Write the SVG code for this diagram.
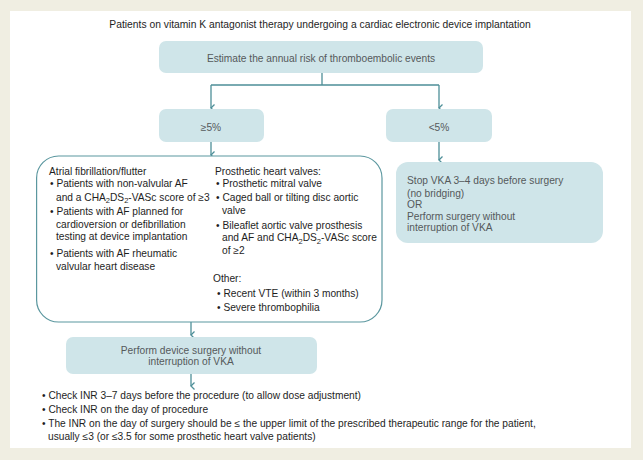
<svg xmlns="http://www.w3.org/2000/svg" width="643" height="460" viewBox="0 0 643 460">
<defs>
<style>
text{font-family:"Liberation Sans",Arial,Helvetica,sans-serif;font-size:10.2px;fill:#1e1e1e}
.box{fill:#cfe5e9}
.bt{fill:#55595b}
.c{text-anchor:middle}
.con{stroke:#4e8f98;stroke-width:1.3;fill:none}
</style>
<marker id="ah" markerWidth="10" markerHeight="8" viewBox="0 0 10 8" refX="5" refY="6" orient="auto-start-reverse" markerUnits="userSpaceOnUse">
<path d="M1.5,2.5 L5,6 L8.5,2.5" fill="none" stroke="#4e8f98" stroke-width="1.3"/>
</marker>
</defs>
<rect x="0" y="0" width="643" height="460" fill="#f0eee2"/>
<rect x="10" y="11" width="621" height="437" fill="#ffffff"/>
<text class="c" x="320" y="27.5" style="font-size:10.3px">Patients on vitamin K antagonist therapy undergoing a cardiac electronic device implantation</text>

<g id="connectors">
<path class="con" d="M322,73 V85 M211,85 H439"/>
<path class="con" d="M211,85 V108" marker-end="url(#ah)"/>
<path class="con" d="M439,85 V108" marker-end="url(#ah)"/>
<path class="con" d="M211,142 V155" marker-end="url(#ah)"/>
<path class="con" d="M439,142 V160" marker-end="url(#ah)"/>
<path class="con" d="M191,322 V335" marker-end="url(#ah)"/>
<path class="con" d="M191,374 V386" marker-end="url(#ah)"/>
</g>

<g id="estimate">
<rect class="box" x="159" y="41" width="324" height="32" rx="7"/>
<text class="c bt" x="321" y="61.5">Estimate the annual risk of thromboembolic events</text>
</g>

<g id="ge5">
<rect class="box" x="159" y="109" width="105" height="33" rx="7"/>
<text class="c bt" x="211" y="130.5">≥5%</text>
</g>

<g id="lt5">
<rect class="box" x="386" y="109" width="106" height="33" rx="7"/>
<text class="c bt" x="439" y="130.5">&lt;5%</text>
</g>

<g id="criteria">
<rect x="36.6" y="156" width="345.4" height="166" rx="22" fill="#ffffff" stroke="#5b979f" stroke-width="1.2"/>
<text x="49" y="174.5">Atrial fibrillation/flutter</text>
<text x="50" y="187">• Patients with non-valvular AF</text>
<text x="56" y="200.5">and a CHA<tspan dy="2.5" style="font-size:7.5px">2</tspan><tspan dy="-2.5">DS</tspan><tspan dy="2.5" style="font-size:7.5px">2</tspan><tspan dy="-2.5">-VASc score of ≥3</tspan></text>
<text x="50" y="215">• Patients with AF planned for</text>
<text x="56" y="227.5">cardioversion or defibrillation</text>
<text x="56" y="240">testing at device implantation</text>
<text x="50" y="257">• Patients with AF rheumatic</text>
<text x="56" y="269.5">valvular heart disease</text>

<text x="215" y="174.5">Prosthetic heart valves:</text>
<text x="216" y="187">• Prosthetic mitral valve</text>
<text x="216" y="200.5">• Caged ball or tilting disc aortic</text>
<text x="222" y="213.5">valve</text>
<text x="216" y="228.5">• Bileaflet aortic valve prosthesis</text>
<text x="222" y="241">and AF and CHA<tspan dy="2.5" style="font-size:7.5px">2</tspan><tspan dy="-2.5">DS</tspan><tspan dy="2.5" style="font-size:7.5px">2</tspan><tspan dy="-2.5">-VASc score</tspan></text>
<text x="222" y="253.5">of ≥2</text>
<text x="213" y="281.5">Other:</text>
<text x="217" y="297">• Recent VTE (within 3 months)</text>
<text x="217" y="310.5">• Severe thrombophilia</text>
</g>

<g id="stop">
<rect class="box" x="396" y="162" width="207" height="81" rx="12"/>
<text class="bt" x="407" y="183.5">Stop VKA 3–4 days before surgery</text>
<text class="bt" x="407" y="196.5">(no bridging)</text>
<text class="bt" x="407" y="208">OR</text>
<text class="bt" x="407" y="219.5">Perform surgery without</text>
<text class="bt" x="407" y="231">interruption of VKA</text>
</g>

<g id="perform">
<rect class="box" x="66" y="337" width="251" height="37" rx="7"/>
<text class="c bt" x="191" y="353.5">Perform device surgery without</text>
<text class="c bt" x="191" y="365">interruption of VKA</text>
</g>

<g id="checks">
<text x="42" y="399">• Check INR 3–7 days before the procedure (to allow dose adjustment)</text>
<text x="42" y="413">• Check INR on the day of procedure</text>
<text x="42" y="427">• The INR on the day of surgery should be ≤ the upper limit of the prescribed therapeutic range for the patient,</text>
<text x="48" y="439.5">usually ≤3 (or ≤3.5 for some prosthetic heart valve patients)</text>
</g>
</svg>
